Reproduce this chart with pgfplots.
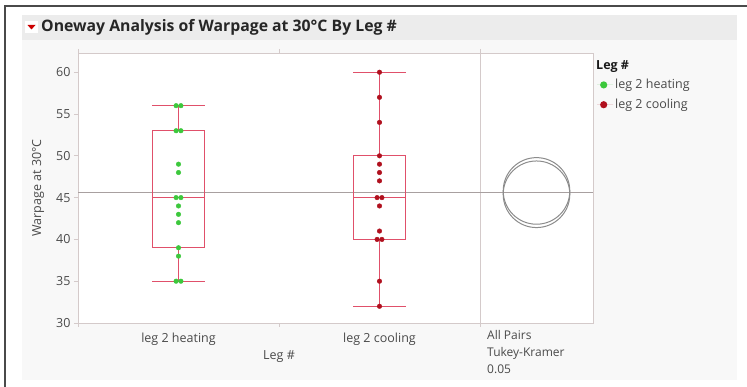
\documentclass[border=0pt]{standalone}
\usepackage{pgfplots}
\pgfplotsset{compat=1.18}
\usepackage{fontspec}
\setmainfont{Open Sans}
\definecolor{boxred}{HTML}{E0506A}
\definecolor{dotgreen}{HTML}{3CC83C}
\definecolor{dotred}{HTML}{B0101E}
\definecolor{axiscol}{HTML}{D4CACA}
\definecolor{meanc}{HTML}{A8A0A0}
\definecolor{circc}{HTML}{8C8C8C}
\definecolor{labc}{HTML}{4A4A4A}
\definecolor{bgc}{HTML}{F8F8F8}
\definecolor{headc}{HTML}{ECECEC}
\definecolor{framec}{HTML}{4A4A4A}
\pgfplotsset{
  panel/.style={
    scale only axis, height=270pt, ymin=30, ymax=62.3,
    axis line style={axiscol, line width=0.8pt},
    axis background/.style={fill=white},
    tick style={axiscol, line width=0.8pt},
    tick align=outside,
    /pgf/number format/assume math mode=true,
    ticklabel style={font=\fontsize{12.5}{14}\selectfont, text=labc},
  },
  boxline/.style={draw=boxred, color=boxred, line width=1pt, mark=none},
}
\begin{document}
\begin{tikzpicture}
\path[use as bounding box] (0pt,0pt) rectangle (747pt,387pt);
\fill[bgc] (22pt,7pt) rectangle (737pt,347pt);
\fill[headc] (22pt,347pt) rectangle (737pt,372pt);
\draw[framec, line width=1.6pt] (5pt,0pt) -- (5pt,381pt) -- (747pt,381pt);
% red disclosure icon
\fill[white] (25pt,354pt) rectangle (38pt,366pt);
\fill[red!80!black] (27.5pt,362pt) -- (35.5pt,362pt) -- (31.5pt,357.5pt) -- cycle;
\node[anchor=west, inner sep=0pt, font=\bfseries\fontsize{15.8}{18}\selectfont, text=black!85] at (41pt,359.5pt) {Oneway Analysis of Warpage at 30°C By Leg \#};

\begin{axis}[panel, at={(78pt,64pt)}, anchor=south west, width=402pt,
  xmin=0.5, xmax=2.5,
  ytick={30,35,40,45,50,55,60},
  major tick length=4pt,
  xtick={0.5,1.5,2.5}, xticklabels={},
  extra x ticks={1,2}, extra x tick labels={leg 2 heating,leg 2 cooling},
  extra x tick style={major tick length=0pt},
  xticklabel style={yshift=-6pt},
  xlabel={Leg \#}, ylabel={Warpage at 30°C},
  every axis x label/.style={at={(axis description cs:0.5,-0.126)}, anchor=center, font=\fontsize{12.5}{14}\selectfont, text=labc},
  every axis y label/.style={at={(axis description cs:-0.0995,0.5)}, anchor=center, rotate=90, font=\fontsize{12.5}{14}\selectfont, text=labc},
]
\addplot[meanc, line width=0.8pt] coordinates {(0.5,45.6) (2.5,45.6)};
% heating box: whiskers 35/56, quartiles 39/53, median 45
\addplot[boxline] coordinates {(0.87,39) (1.13,39) (1.13,53) (0.87,53) (0.87,39)};
\addplot[boxline] coordinates {(0.87,45) (1.13,45)};
\addplot[boxline] coordinates {(1,35) (1,39)};
\addplot[boxline] coordinates {(1,53) (1,56)};
\addplot[boxline] coordinates {(0.87,35) (1.13,35)};
\addplot[boxline] coordinates {(0.87,56) (1.13,56)};
% cooling box: whiskers 32/60, quartiles 40/50, median 45
\addplot[boxline] coordinates {(1.87,40) (1.87,50)};
\addplot[boxline] coordinates {(2.13,40) (2.13,50)};
\addplot[boxline] coordinates {(1.87,40) (2.13,40)};
\addplot[boxline] coordinates {(1.87,50) (2.13,50)};
\addplot[boxline] coordinates {(1.87,45) (2.13,45)};
\addplot[boxline] coordinates {(2,32) (2,40)};
\addplot[boxline] coordinates {(2,50) (2,60)};
\addplot[boxline] coordinates {(1.87,32) (2.13,32)};
\addplot[boxline] coordinates {(1.87,60) (2.13,60)};
\addplot[only marks, mark=*, mark size=2.3pt, dotgreen, mark options={draw=none, fill=dotgreen}] coordinates {
(0.988,56)(1.012,56)(0.988,53)(1.012,53)(1,49)(1,48)(0.988,45)(1.012,45)(1,44)(1,43)(1,42)(1,39)(1,38)(0.988,35)(1.012,35)};
\addplot[only marks, mark=*, mark size=2.3pt, dotred, mark options={draw=none, fill=dotred}] coordinates {
(2,60)(2,57)(2,54)(2,50)(2,49)(2,48)(2,47)(1.988,45)(2.012,45)(2,44)(2,41)(1.988,40)(2.012,40)(2,35)(2,32)};
\end{axis}

\begin{axis}[panel, at={(480pt,64pt)}, anchor=south west, width=113pt,
  xmin=0, xmax=1, xtick=\empty, ytick=\empty, clip=false,
  legend cell align=left,
  legend style={at={(rel axis cs:1,1)}, anchor=north west, xshift=3pt, yshift=-4pt,
    draw=none, fill=none, font=\fontsize{12.5}{14}\selectfont, text=labc,
    row sep=4.8pt, inner sep=1pt},
  legend image code/.code={\path (-1pt,0pt) -- (15pt,0pt); \fill[#1] (5.5pt,0pt) circle (3.6pt);},
]
\addlegendimage{empty legend}
\addlegendentry{\hspace{-19pt}\textcolor{black!90}{\bfseries Leg \#}}
\addlegendimage{draw=none, fill=dotgreen}
\addlegendentry{leg 2 heating}
\addlegendimage{draw=none, fill=dotred}
\addlegendentry{leg 2 cooling}
\addplot[meanc, line width=0.8pt] coordinates {(0,45.6) (1,45.6)};
\addplot[only marks, mark=o, mark size=33.3pt, mark options={draw=circc, line width=1pt}] coordinates {(0.5,45.8)};
\addplot[only marks, mark=o, mark size=33.3pt, mark options={draw=circc, line width=1pt}] coordinates {(0.5,45.4)};
\node[anchor=north west, inner sep=0pt, align=left, font=\fontsize{12}{17}\selectfont, text=labc] at (rel axis cs:0,0) [xshift=7pt, yshift=-7pt] {All Pairs\\Tukey-Kramer\\0.05};
\end{axis}
\end{tikzpicture}
\end{document}
